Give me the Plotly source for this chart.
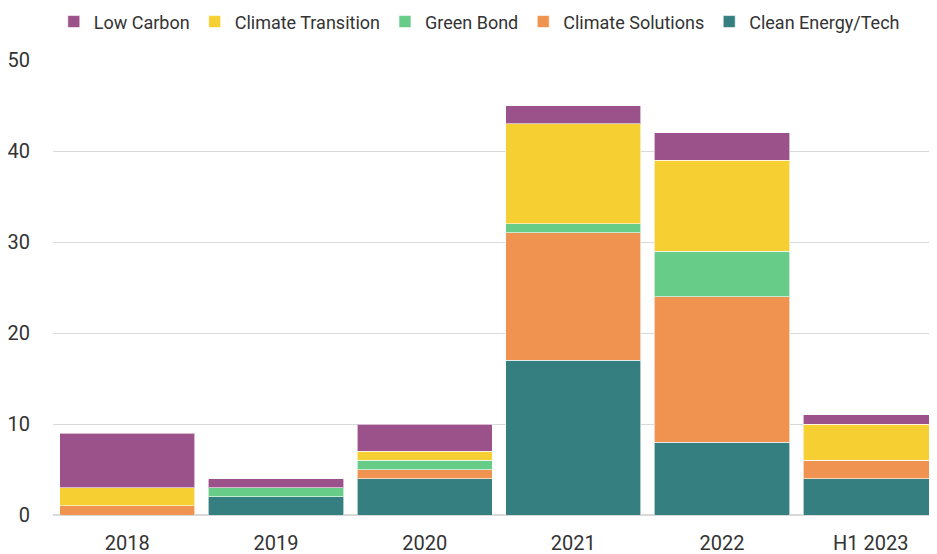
import plotly.graph_objects as go

years = ["2018", "2019", "2020", "2021", "2022", "H1 2023"]

clean_energy = [0, 2, 4, 17, 8, 4]
climate_solutions = [1, 0, 1, 14, 16, 2]
green_bond = [0, 1, 1, 1, 5, 0]
climate_transition = [2, 0, 1, 11, 10, 4]
low_carbon = [6, 1, 3, 2, 3, 1]

series = [
    ("Clean Energy/Tech", clean_energy, "#357F80"),
    ("Climate Solutions", climate_solutions, "#F09350"),
    ("Green Bond", green_bond, "#66CC88"),
    ("Climate Transition", climate_transition, "#F6D033"),
    ("Low Carbon", low_carbon, "#9B518A"),
]

fig = go.Figure()
for name, vals, col in series:
    fig.add_trace(go.Bar(x=years, y=vals, name=name,
                         marker=dict(color=col, line=dict(color="rgba(255,255,255,0.6)", width=1))))

# page body has an 8px default margin, so margins are trimmed to compensate
font = "Roboto, sans-serif"
fig.update_layout(
    barmode="stack",
    bargap=0.09,
    width=937, height=554,
    margin=dict(l=45, r=0, t=52, b=47, autoexpand=False),
    plot_bgcolor="white", paper_bgcolor="white",
    font=dict(family=font, size=20, color="#333333"),
    legend=dict(orientation="h", traceorder="reversed", xref="container", x=0.503, xanchor="center",
                yref="container", y=0.975, yanchor="middle", font=dict(size=18),
                itemwidth=30, tracegroupgap=0),
    showlegend=True,
)
fig.update_yaxes(range=[0, 50], dtick=10, showgrid=True, gridcolor="#D9D9D9", gridwidth=1,
                 zeroline=True, zerolinecolor="#D9D9D9", zerolinewidth=2,
                 ticks="outside", ticklen=18, tickcolor="rgba(0,0,0,0)", automargin=False)
fig.update_xaxes(showgrid=False, ticks="outside", ticklen=10, tickcolor="rgba(0,0,0,0)",
                 tickfont=dict(size=20), automargin=False)

fig.write_html("out.html")
